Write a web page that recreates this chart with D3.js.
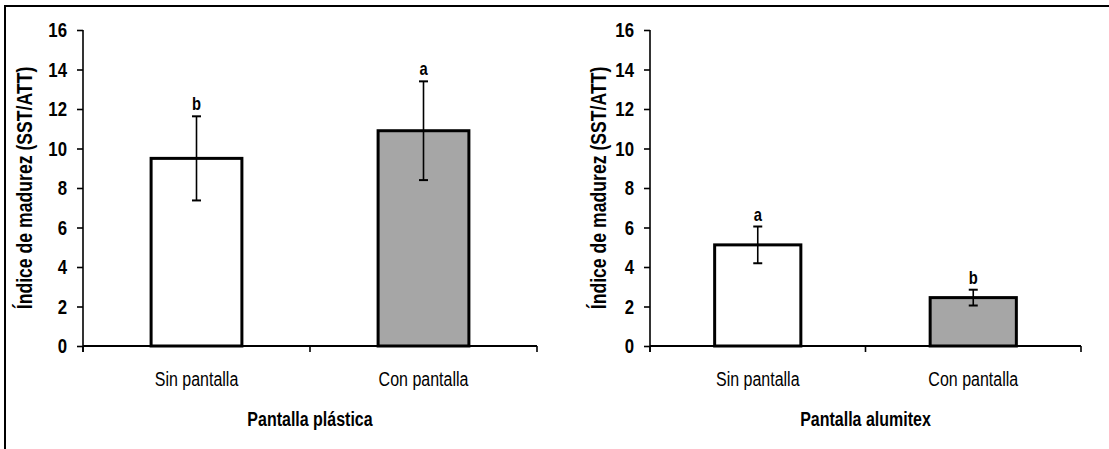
<!DOCTYPE html>
<html>
<head>
<meta charset="utf-8">
<script src="https://cdn.jsdelivr.net/npm/d3@7"></script>
<style>
  html, body { margin: 0; padding: 0; background: #ffffff; }
  svg { display: block; }
  text { font-family: "Liberation Sans", Arial, sans-serif; fill: #000; }
</style>
</head>
<body>
<svg id="chart" width="1109" height="449"></svg>
<script>
// ---- data ----
const categories = ["Sin pantalla", "Con pantalla"];
const panelTitles = ["Pantalla plástica", "Pantalla alumitex"];
const plasticValues = [9.5, 10.9];
const plasticErrors = [2.13, 2.5];
const plasticLetters = ["b", "a"];
const alumitexValues = [5.12, 2.45];
const alumitexErrors = [0.93, 0.4];
const alumitexLetters = ["a", "b"];
const barColors = ["#ffffff", "#a6a6a6"];
const yTicks = [0, 2, 4, 6, 8, 10, 12, 14, 16];
const yAxisTitle = "Índice de madurez (SST/ATT)";

const NARROW = 0.82; // emulate a narrow face with horizontal scaling
const svg = d3.select("#chart");

function addText(parent, x, y, str, size, opts = {}) {
  const rot = opts.rotate || 0;
  const g = parent.append("g")
    .attr("transform", `translate(${x},${y}) rotate(${rot}) scale(${NARROW},1)`);
  const t = g.append("text")
    .attr("text-anchor", opts.anchor || "middle")
    .attr("font-size", size)
    .attr("font-weight", opts.weight || "normal")
    .text(str);
  if (opts.baseline) t.attr("dominant-baseline", opts.baseline);
  return t;
}

// outer frame (top and left edges)
svg.append("path")
  .attr("d", "M5,449 L5,6 L1109,6")
  .attr("fill", "none").attr("stroke", "#000").attr("stroke-width", 2);

const panels = [
  { x0: 83, x1: 537, titleX: 24, values: plasticValues, errors: plasticErrors, letters: plasticLetters, title: panelTitles[0] },
  { x0: 650, x1: 1081, titleX: 598, values: alumitexValues, errors: alumitexErrors, letters: alumitexLetters, title: panelTitles[1] }
];
const yTop = 30, yBot = 346;

panels.forEach(p => {
  const g = svg.append("g");
  const x = d3.scaleBand().domain(categories).range([p.x0, p.x1])
    .paddingInner(0.6).paddingOuter(0.3);
  const y = d3.scaleLinear().domain([0, 16]).range([yBot, yTop]);

  // y axis
  const ya = g.append("g").attr("transform", `translate(${p.x0},0)`)
    .call(d3.axisLeft(y).tickValues(yTicks).tickSize(6).tickPadding(10));
  ya.select(".domain").attr("stroke", "#000").attr("stroke-width", 1.6).attr("d", `M0,${yTop}V${yBot + 6}`);
  ya.selectAll(".tick line").attr("stroke", "#000").attr("stroke-width", 1.6);
  ya.selectAll(".tick text")
    .attr("font-size", 20.5)
    .attr("font-weight", "bold")
    .style("font-family", "'Liberation Sans', Arial, sans-serif")
    .attr("x", -16 / NARROW)
    .attr("transform", `scale(${NARROW},1)`);

  // y title
  addText(g, p.titleX, (yTop + yBot) / 2, yAxisTitle, 21.5,
    { rotate: -90, weight: "bold", baseline: "central" });

  // bars
  g.selectAll("rect.bar").data(p.values).join("rect")
    .attr("class", "bar")
    .attr("x", (d, i) => x(categories[i]))
    .attr("width", x.bandwidth())
    .attr("y", d => y(d))
    .attr("height", d => y(0) - y(d))
    .attr("fill", (d, i) => barColors[i])
    .attr("stroke", "#000").attr("stroke-width", 3);

  // x axis line with boundary ticks
  const bounds = [p.x0, (p.x0 + p.x1) / 2, p.x1];
  g.append("line").attr("x1", p.x0).attr("x2", p.x1).attr("y1", y(0)).attr("y2", y(0))
    .attr("stroke", "#000").attr("stroke-width", 2);
  g.selectAll("line.xtick").data(bounds).join("line").attr("class", "xtick")
    .attr("x1", d => d).attr("x2", d => d).attr("y1", y(0)).attr("y2", y(0) + 6)
    .attr("stroke", "#000").attr("stroke-width", 1.6);

  // category labels
  categories.forEach(c => addText(g, x(c) + x.bandwidth() / 2, 386, c, 19.5));

  // panel title
  addText(g, (p.x0 + p.x1) / 2, 426, p.title, 19.5, { weight: "bold" });

  // error bars
  p.values.forEach((v, i) => {
    const cx = x(categories[i]) + x.bandwidth() / 2;
    const hi = y(v + p.errors[i]), lo = y(v - p.errors[i]);
    g.append("line").attr("x1", cx).attr("x2", cx).attr("y1", hi).attr("y2", lo)
      .attr("stroke", "#000").attr("stroke-width", 1.6);
    [hi, lo].forEach(yy => g.append("line").attr("x1", cx - 4.5).attr("x2", cx + 4.5)
      .attr("y1", yy).attr("y2", yy).attr("stroke", "#000").attr("stroke-width", 2));
    addText(g, cx, hi - 6, p.letters[i], 18, { weight: "bold" });
  });
});
</script>
</body>
</html>
